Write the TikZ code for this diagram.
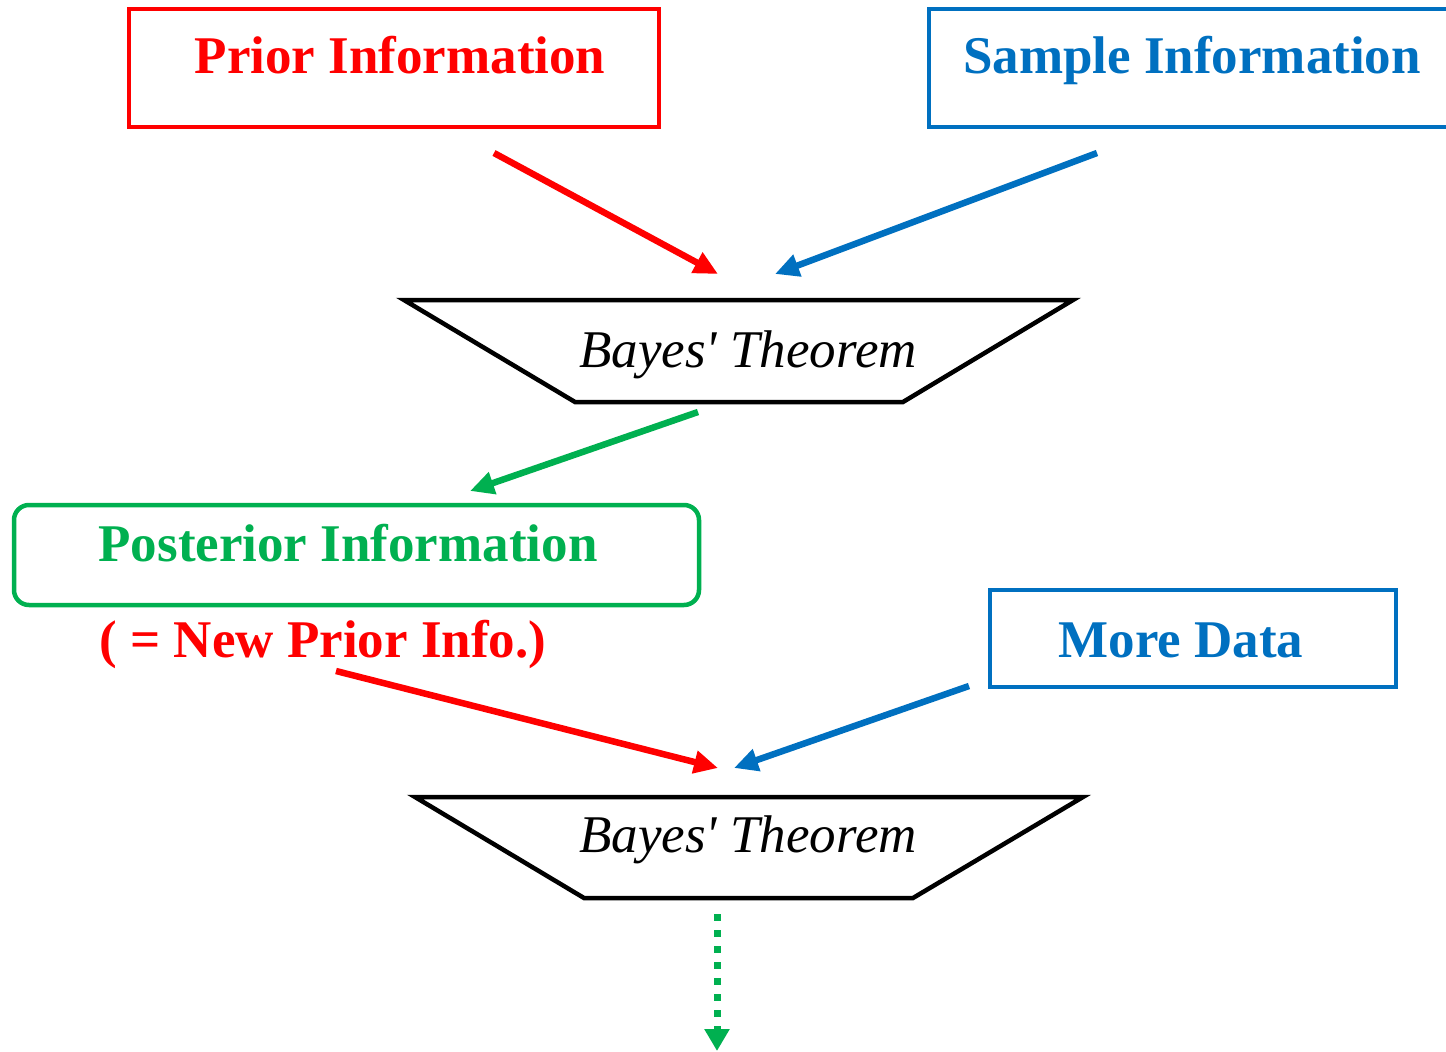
\documentclass[tikz,border=0pt]{standalone}
\usepackage{fontspec}
\setmainfont{Liberation Serif}
\usetikzlibrary{arrows.meta}
\definecolor{cred}{HTML}{FF0000}
\definecolor{cblue}{HTML}{0070C0}
\definecolor{cgreen}{HTML}{00B050}
\tikzset{
  lbl/.style={font=\fontsize{53}{60}\selectfont\bfseries, inner sep=0pt, anchor=base},
  thm/.style={font=\fontsize{53}{60}\selectfont\itshape, inner sep=0pt, anchor=base},
  boxline/.style={line width=4.5pt},
  arr/.style={line width=6.5pt, -{Triangle[length=24pt,width=22pt]}},
  trap/.style={line width=4.5pt, draw=black, line join=miter},
}
\begin{document}
\begin{tikzpicture}[x=1pt,y=-1pt]
\useasboundingbox (0,0) rectangle (1446,1052);
\begin{scope}
\clip (0,0) rectangle (1446,1052);
% boxes
\draw[boxline, draw=cred] (129,9) rectangle (659,127);
\node[lbl, text=cred] (prior) at (400,73) {Prior Information};
\draw[boxline, draw=cblue] (929,9) rectangle (1470,127);
\node[lbl, text=cblue] (sample) at (1192,73) {Sample Information};
% trapezoid 1
\draw[trap] (404,300) -- (1073,300) -- (903,402) -- (575,402) -- cycle;
\node[thm] (bayes1) at (748,367) {Bayes\textquotesingle{} Theorem};
% posterior
\draw[boxline, draw=cgreen, rounded corners=15pt] (14,505) rectangle (699,605);
\node[lbl, text=cgreen] (post) at (348,561) {Posterior Information};
\node[lbl, text=cred] (newprior) at (323,657) {( = New Prior Info.)};
% more data
\draw[boxline, draw=cblue] (990,590) rectangle (1396,687);
\node[lbl, text=cblue] (more) at (1181,657) {More Data};
% trapezoid 2
\draw[trap] (415,797) -- (1083,797) -- (913,898) -- (584,898) -- cycle;
\node[thm] (bayes2) at (748,852) {Bayes\textquotesingle{} Theorem};
% arrow coordinates
\coordinate (a1s) at (494,153); \coordinate (a1e) at (718,274);
\coordinate (a2s) at (1097,153); \coordinate (a2e) at (775,274);
\coordinate (a3s) at (698,412); \coordinate (a3e) at (470,491);
\coordinate (a4s) at (336,671); \coordinate (a4e) at (718,768);
\coordinate (a5s) at (969,686); \coordinate (a5e) at (734,768);
\coordinate (a6s) at (717,914); \coordinate (a6e) at (717,1051);
\draw[arr, draw=cred, fill=cred] (a1s) -- (a1e);
\draw[arr, draw=cblue, fill=cblue] (a2s) -- (a2e);
\draw[arr, draw=cgreen, fill=cgreen] (a3s) -- (a3e);
\draw[arr, draw=cred, fill=cred] (a4s) -- (a4e);
\draw[arr, draw=cblue, fill=cblue] (a5s) -- (a5e);
\draw[line width=7pt, draw=cgreen, dash pattern=on 7pt off 9pt, -{Triangle[length=22pt,width=24pt,fill=cgreen]}] (a6s) -- (a6e);
\end{scope}
\end{tikzpicture}
\end{document}
